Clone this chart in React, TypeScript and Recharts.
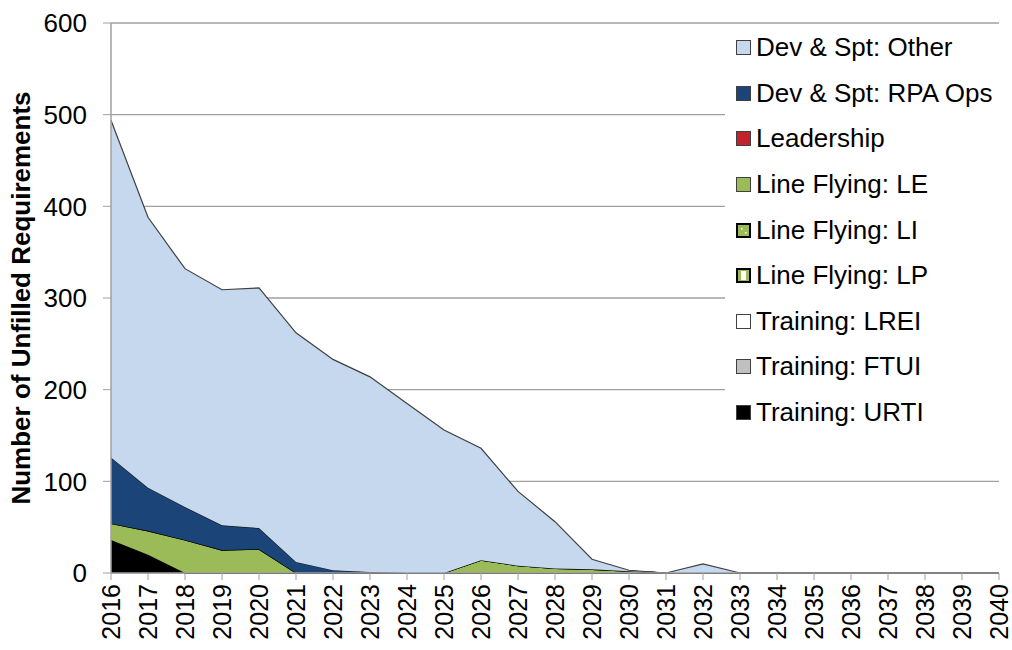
import { AreaChart, Area, XAxis, YAxis, CartesianGrid, Legend, Label } from "recharts";

const years = [
  "2016", "2017", "2018", "2019", "2020", "2021", "2022", "2023", "2024", "2025",
  "2026", "2027", "2028", "2029", "2030", "2031", "2032", "2033", "2034", "2035",
  "2036", "2037", "2038", "2039", "2040",
];

// stacked bottom -> top
const trainingURTI = [36, 20, 0, 0, 0, 0, 0, 0, 0, 0, 0, 0, 0, 0, 0, 0, 0, 0, 0, 0, 0, 0, 0, 0, 0];
const trainingFTUI = [0, 0, 0, 0, 0, 0, 0, 0, 0, 0, 0, 0, 0, 0, 0, 0, 0, 0, 0, 0, 0, 0, 0, 0, 0];
const trainingLREI = [0, 0, 0, 0, 0, 0, 0, 0, 0, 0, 0, 0, 0, 0, 0, 0, 0, 0, 0, 0, 0, 0, 0, 0, 0];
const lineFlyingLP = [0, 0, 0, 0, 0, 0, 0, 0, 0, 0, 0, 0, 0, 0, 0, 0, 0, 0, 0, 0, 0, 0, 0, 0, 0];
const lineFlyingLI = [0, 0, 0, 0, 0, 0, 0, 0, 0, 0, 0, 0, 0, 0, 0, 0, 0, 0, 0, 0, 0, 0, 0, 0, 0];
const lineFlyingLE = [18, 26, 36, 25, 26, 0, 0, 0, 0, 0, 14, 8, 5, 4, 2, 0, 0, 0, 0, 0, 0, 0, 0, 0, 0];
const leadership = [0, 0, 0, 0, 0, 0, 0, 0, 0, 0, 0, 0, 0, 0, 0, 0, 0, 0, 0, 0, 0, 0, 0, 0, 0];
const rpaOps = [72, 47, 36, 27, 23, 12, 3, 1, 0, 0, 0, 0, 0, 0, 0, 0, 0, 0, 0, 0, 0, 0, 0, 0, 0];
const devOther = [368, 295, 260, 257, 262, 250, 230, 213, 185, 156, 122, 81, 51, 11, 1, 0, 10, 0, 0, 0, 0, 0, 0, 0, 0];

const yTicks = [0, 100, 200, 300, 400, 500, 600];

const series = [
  { key: "urti", name: "Training: URTI", values: trainingURTI, fill: "#000000", stroke: "#000000" },
  { key: "ftui", name: "Training: FTUI", values: trainingFTUI, fill: "#c0c0c0", stroke: "#000000" },
  { key: "lrei", name: "Training: LREI", values: trainingLREI, fill: "#ffffff", stroke: "#000000" },
  { key: "lp", name: "Line Flying: LP", values: lineFlyingLP, fill: "#ffffff", stroke: "#000000" },
  { key: "li", name: "Line Flying: LI", values: lineFlyingLI, fill: "#9bbb59", stroke: "#000000" },
  { key: "le", name: "Line Flying: LE", values: lineFlyingLE, fill: "#9bbb59", stroke: "#1a1a1a" },
  { key: "lead", name: "Leadership", values: leadership, fill: "#c0232b", stroke: "#000000" },
  { key: "rpa", name: "Dev & Spt: RPA Ops", values: rpaOps, fill: "#1b4578", stroke: "#1a1a1a" },
  { key: "other", name: "Dev & Spt: Other", values: devOther, fill: "#c5d8ed", stroke: "#404040" },
];

const data = years.map((year, i) => {
  const row: Record<string, string | number> = { year };
  series.forEach((s) => {
    row[s.key] = s.values[i];
  });
  return row;
});

const FONT = "'Liberation Sans', Arial, sans-serif";

function YearTick({ x, y, payload }: any) {
  return (
    <text
      x={x}
      y={y}
      transform={`rotate(-90 ${x} ${y})`}
      textAnchor="end"
      dy="0.36em"
      fontSize={25}
      fontFamily={FONT}
      fill="#000"
    >
      {payload.value}
    </text>
  );
}

function Marker({ k, fill }: { k: string; fill: string }) {
  if (k === "li") {
    return (
      <svg width={15} height={15} style={{ display: "block" }}>
        <rect x={1} y={1} width={13} height={13} fill={fill} stroke="#000" strokeWidth={2} />
        <rect x={5} y={5} width={1.5} height={1.5} fill="#fff" />
        <rect x={9} y={9} width={1.5} height={1.5} fill="#fff" />
      </svg>
    );
  }
  if (k === "lp") {
    return (
      <svg width={15} height={15} style={{ display: "block" }}>
        <rect x={1} y={1} width={13} height={13} fill="#9bbb59" stroke="#000" strokeWidth={2} />
        <rect x={5} y={3} width={5} height={9} fill="#fff" />
      </svg>
    );
  }
  return (
    <svg width={15} height={15} style={{ display: "block" }}>
      <rect x={0.5} y={0.5} width={14} height={14} fill={fill} stroke="#404040" strokeWidth={1} />
    </svg>
  );
}

function renderLegend() {
  const items = [...series].reverse();
  return (
    <div style={{ background: "#fff", width: 287, height: 415 }}>
      {items.map((s) => (
        <div
          key={s.key}
          style={{
            height: 45.6,
            display: "flex",
            alignItems: "center",
            paddingLeft: 11,
            fontFamily: FONT,
            fontSize: 26,
            color: "#000",
            whiteSpace: "nowrap",
          }}
        >
          <Marker k={s.key} fill={s.fill} />
          <span style={{ marginLeft: 5 }}>{s.name}</span>
        </div>
      ))}
    </div>
  );
}

export default function App() {
  return (
    <div style={{ position: "absolute", left: 0, top: 0, width: 1012, height: 650, background: "#fff" }}>
      <AreaChart width={1012} height={650} data={data} margin={{ top: 23, right: 13, bottom: 0, left: 0 }}>
        <CartesianGrid horizontal vertical={false} stroke="#a0a0a0" strokeWidth={1.3} />
        <XAxis
          dataKey="year"
          interval={0}
          height={77}
          tick={<YearTick />}
          tickSize={7}
          tickMargin={4}
          tickLine={{ stroke: "#a0a0a0" }}
          axisLine={{ stroke: "#a0a0a0", strokeWidth: 1.5 }}
        />
        <YAxis
          width={111}
          domain={[0, 600]}
          ticks={yTicks}
          interval={0}
          tickSize={8}
          tickMargin={16}
          tickLine={{ stroke: "#a0a0a0" }}
          axisLine={{ stroke: "#a0a0a0", strokeWidth: 1.5 }}
          tick={{ fontSize: 26, fontFamily: FONT, fill: "#000" }}
        >
          <Label
            content={() => (
              <text
                x={30}
                y={298}
                transform="rotate(-90 30 298)"
                textAnchor="middle"
                fontSize={26}
                fontWeight="bold"
                fontFamily={FONT}
                fill="#000"
              >
                Number of Unfilled Requirements
              </text>
            )}
          />
        </YAxis>
        <Legend
          layout="vertical"
          align="center"
          verticalAlign="middle"
          wrapperStyle={{ left: 725, top: 25, width: 287 }}
          content={renderLegend}
        />
        {series.map((s) => (
          <Area
            key={s.key}
            type="linear"
            dataKey={s.key}
            name={s.name}
            stackId="1"
            fill={s.fill}
            fillOpacity={1}
            stroke={s.stroke}
            strokeWidth={1.2}
            dot={false}
            activeDot={false}
            isAnimationActive={false}
          />
        ))}
      </AreaChart>
    </div>
  );
}
